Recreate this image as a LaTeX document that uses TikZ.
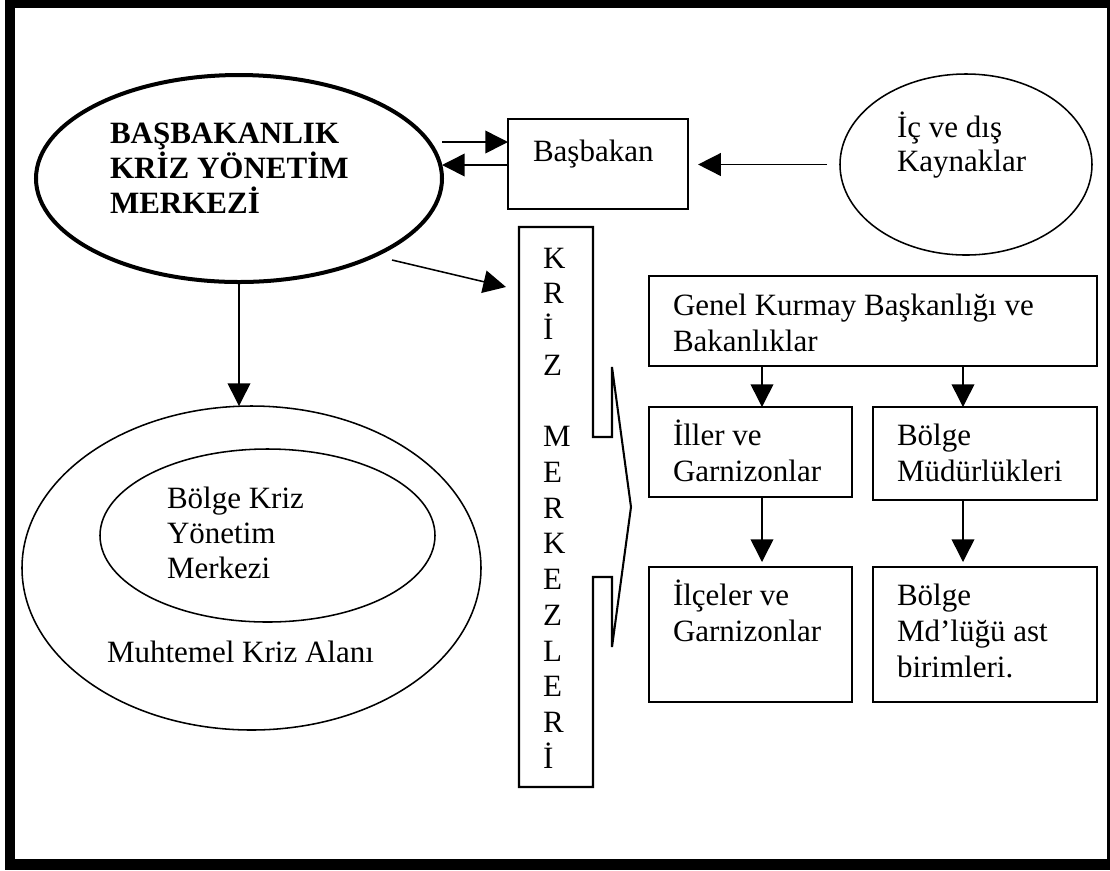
\documentclass[tikz,border=0pt]{standalone}
\usepackage{fontspec}
\setmainfont{Liberation Serif}
\usetikzlibrary{arrows.meta,calc,shapes.geometric}
% left-aligned lines whose baseline is the first line's baseline,
% spaced by \baselineskip whatever the accents
\newcommand\txtlines[1]{{\let\\\cr\vtop{\lineskiplimit=-\maxdimen\halign{##\hfil\cr#1\crcr}}}}
\def\pxu{0.387pt}
\begin{document}
\begin{tikzpicture}[x=0.387pt,y=-0.387pt,
  rbox/.style 2 args={draw,rectangle,line width=0.8pt,inner sep=0,outer sep=0,
    minimum width=#1*\pxu,minimum height=#2*\pxu},
  oval/.style 2 args={draw,ellipse,line width=0.6pt,inner sep=0,outer sep=0,
    minimum width=#1*\pxu,minimum height=#2*\pxu},
  lbl/.style={anchor=base west,inner sep=0,outer sep=0,font=\fontsize{12}{14}\selectfont},
  arr/.style={line width=0.6pt,-{Triangle[length=8.8pt,width=8.8pt]}}]
\useasboundingbox (0,0) rectangle (1110,870);

% page frame
\fill (5,0) rectangle (1110,870);
\fill[white] (15,8) rectangle (1107,859);

% shapes
\node[oval={406}{207},line width=1.55pt] (pkm) at (239,178.5) {};
\node[rbox={180}{90}] (basb) at (598,164) {};
\node[oval={252}{181}] (kay) at (966,164.5) {};
\node[oval={459}{324}] (muh) at (251.5,568) {};
\node[oval={335}{173}] (bkym) at (267.5,535.5) {};
\node[rbox={448}{90}] (gkb) at (873,321) {};
\node[rbox={203}{90}] (il) at (750.5,452) {};
\node[rbox={224}{93}] (bm) at (985,453.5) {};
\node[rbox={203}{135}] (ilc) at (750.5,634.5) {};
\node[rbox={224}{135}] (bma) at (985,634.5) {};

% vertical column with the arrow notch
\node[inner sep=0,outer sep=0,minimum width=74*\pxu,minimum height=560*\pxu] (kriz) at (556,507) {};
\draw[line width=0.8pt,line join=miter]
  (kriz.north west) -- (kriz.north east) -- ($(kriz.east)+(0,-70)$)
  -- ++(19,0) -- ++(0,-70) -- ($(kriz.east)+(38,0)$) -- ($(kriz.east)+(19,140)$)
  -- ++(0,-70) -- ++(-19,0) -- (kriz.south east) -- (kriz.south west) -- cycle;

% texts
\node[lbl,font=\fontsize{12}{13.7}\selectfont\bfseries] (pkmt) at (110,143)
  {\txtlines{BAŞBAKANLIK\\KRİZ YÖNETİM\\MERKEZİ}};
\node[lbl] (basbt) at (533,161) {Başbakan};
\node[lbl,font=\fontsize{12}{13.5}\selectfont] (kayt) at (897,137) {\txtlines{İç ve dış\\Kaynaklar}};
\node[lbl,font=\fontsize{12}{13.83}\selectfont] (krizt) at (543,268)
  {\txtlines{K\\R\\İ\\Z\\ \\M\\E\\R\\K\\E\\Z\\L\\E\\R\\İ}};
\node[lbl,font=\fontsize{12}{14.3}\selectfont] (gkbt) at (673,315) {\txtlines{Genel Kurmay Başkanlığı ve\\Bakanlıklar}};
\node[lbl,font=\fontsize{12}{14.3}\selectfont] (ilt) at (673,445) {\txtlines{İller ve\\Garnizonlar}};
\node[lbl,font=\fontsize{12}{14.3}\selectfont] (bmt) at (897,445) {\txtlines{Bölge\\Müdürlükleri}};
\node[lbl,font=\fontsize{12}{14.1}\selectfont] (ilct) at (673,605) {\txtlines{İlçeler ve\\Garnizonlar}};
\node[lbl,font=\fontsize{12}{14.1}\selectfont] (bmat) at (897,605) {\txtlines{Bölge\\Md’lüğü ast\\birimleri.}};
\node[lbl,font=\fontsize{12}{13.7}\selectfont] (bkymt) at (167,508) {\txtlines{Bölge Kriz\\Yönetim\\Merkezi}};
\node[lbl] (muht) at (107,662) {Muhtemel Kriz Alanı};

% connectors
\coordinate (top) at ($(basb.west)+(0,-22)$);
\coordinate (bot) at ($(basb.west)+(0,1)$);
\draw[arr] (pkm.east |- top) -- (top);
\draw[arr] (bot) -- (pkm.east |- bot);
\draw[arr,shorten <=5pt,shorten >=3.9pt] (kay.west) -- (basb.east |- kay.west);
\draw[arr] (pkm.south) -- (pkm.south |- muh.north);
\coordinate (d1) at ($(pkm.center)+(153,81.5)$);
\coordinate (d2) at ($(kriz.north west)+(-13,60)$);
\draw[arr] (d1) -- (d2);
\coordinate (c1) at ($(gkb.south west)+(113,0)$);
\coordinate (c2) at ($(gkb.south west)+(314,0)$);
\draw[arr] (c1) -- (c1 |- il.north);
\draw[arr] (c2) -- (c2 |- bm.north);
\draw[arr] (c1 |- il.south) -- ($(c1 |- ilc.north)+(0,-5)$);
\draw[arr] (c2 |- bm.south) -- ($(c2 |- bma.north)+(0,-5)$);
\end{tikzpicture}
\end{document}
